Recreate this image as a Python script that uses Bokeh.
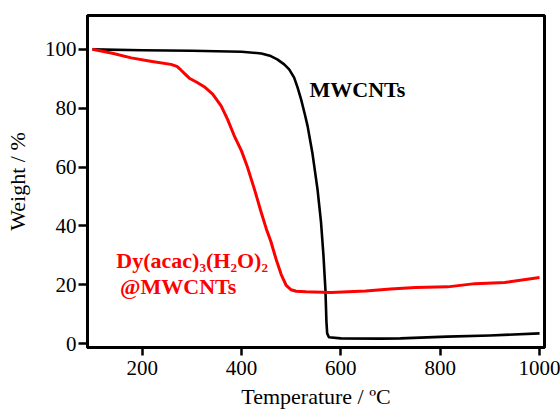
from bokeh.plotting import figure
from bokeh.models import Range1d, FixedTicker, ColumnDataSource
from bokeh.core.properties import value
from bokeh.embed import file_html
from bokeh.resources import INLINE

# MWCNTs TGA curve
mw_temp = [100, 200, 300, 400, 440, 459, 472, 486, 496, 506, 513, 520, 527, 533, 543, 553, 560,
           565, 569, 571, 572.5, 576, 600, 680, 720, 814, 900, 1000]
mw_weight = [100, 99.7, 99.5, 99.2, 98.6, 97.7, 96.6, 94.9, 93.2, 90.4, 87.0, 83.0, 78.3, 74.0,
             64.5, 52.5, 41.5, 30.0, 18.2, 7.5, 3.5, 2.2, 1.8, 1.7, 1.8, 2.4, 2.8, 3.5]

# Dy(acac)3(H2O)2@MWCNTs TGA curve
dy_temp = [100, 140, 178, 220, 258, 270, 278, 287, 295, 310, 325, 342, 359, 372, 385, 400,
           412, 426, 439, 450, 459, 470, 480, 490, 500, 510, 530, 580, 650, 700, 750, 815, 870, 930, 1000]
dy_weight = [100, 98.7, 97.1, 95.9, 94.9, 94.2, 93.0, 91.5, 90.2, 88.8, 87.3, 84.8, 80.8, 76.2,
             70.8, 65.5, 60.0, 52.5, 45.0, 39.0, 34.8, 28.5, 23.5, 19.8, 18.3, 17.8, 17.6, 17.4,
             17.9, 18.6, 19.1, 19.3, 20.4, 20.8, 22.5]

x_ticks = [200, 400, 600, 800, 1000]
y_ticks = [0, 20, 40, 60, 80, 100]

label_mw = "MWCNTs"
label_dy_1 = "Dy(acac)\u2083(H\u2082O)\u2082"
label_dy_2 = "@MWCNTs"

FONT = "Liberation Serif"

p = figure(width=560, height=414, output_backend="svg", toolbar_location=None,
           x_range=Range1d(90, 1010), y_range=Range1d(-1.3, 111.5),
           min_border_left=87, min_border_top=15, min_border_right=16, min_border_bottom=67)
p.background_fill_color = "white"
p.border_fill_color = "white"
p.grid.visible = False
p.outline_line_color = "black"
p.outline_line_width = 3
p.outline_line_alpha = 1

p.xaxis.ticker = FixedTicker(ticks=x_ticks)
p.yaxis.ticker = FixedTicker(ticks=y_ticks)
for ax in (p.xaxis[0], p.yaxis[0]):
    ax.axis_line_color = "black"
    ax.axis_line_width = 3
    ax.major_tick_line_color = "black"
    ax.major_tick_line_width = 2.5
    ax.major_tick_in = 0
    ax.minor_tick_in = 0
    ax.minor_tick_out = 0
    ax.minor_tick_line_color = None
    ax.major_label_text_font = FONT
    ax.major_label_text_font_size = "21px"
    ax.major_label_text_color = "black"
    ax.axis_label_text_font = FONT
    ax.axis_label_text_font_size = "22px"
    ax.axis_label_text_font_style = "normal"
    ax.axis_label_text_color = "black"

p.xaxis.major_tick_out = 8
p.xaxis.major_label_standoff = 5
p.xaxis.axis_label = "Temperature / \u00baC"
p.xaxis.axis_label_standoff = 6

p.yaxis.major_tick_out = 9
p.yaxis.major_label_standoff = 2
p.yaxis.axis_label = "Weight / %"
p.yaxis.axis_label_standoff = 12

src_mw = ColumnDataSource(dict(t=mw_temp, w=mw_weight))
src_dy = ColumnDataSource(dict(t=dy_temp, w=dy_weight))
p.line("t", "w", source=src_mw, line_color="black", line_width=2.6, line_join="round")
p.line("t", "w", source=src_dy, line_color="#ff0000", line_width=3, line_join="round")

p.text(x=[537], y=[86.5], text=[label_mw], text_font=value(FONT), text_font_size="22px",
       text_font_style="bold", text_color="black", text_baseline="alphabetic", text_align="left")
p.text(x=[148], y=[28.3], text=[label_dy_1], text_font=value(FONT), text_font_size="22px",
       text_font_style="bold", text_color="#ff0000", text_baseline="alphabetic", text_align="left")
p.text(x=[155.5], y=[19.3], text=[label_dy_2], text_font=value(FONT), text_font_size="22px",
       text_font_style="bold", text_color="#ff0000", text_baseline="alphabetic", text_align="left")

open("out.html", "w").write(file_html(p, INLINE))
